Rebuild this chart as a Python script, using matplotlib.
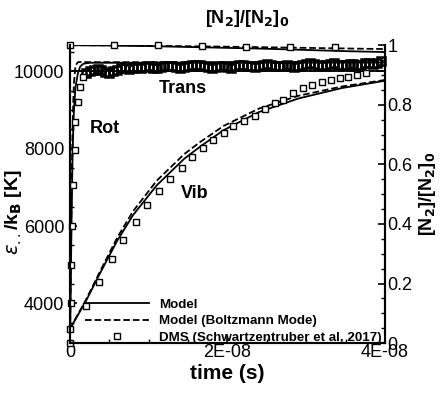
import matplotlib
matplotlib.use("Agg")
import matplotlib.pyplot as plt
from matplotlib.lines import Line2D
from matplotlib.ticker import MultipleLocator, FixedLocator

plt.rcParams['font.family'] = ['Liberation Sans', 'DejaVu Sans']

# --- model: translational (heat bath) ---
t_trans = [0.0, 4e-8]
trans_model = [10000, 10000]

# --- model: rotational ---
t_rot = [0.0, 1e-10, 2e-10, 3e-10, 4e-10, 5e-10, 7e-10, 1e-9, 1.3e-9, 1.7e-9, 2.5e-9, 4e-8]
rot_model = [3000, 4500, 6200, 7500, 8400, 9000, 9600, 9950, 10130, 10200, 10225, 10230]
rot_boltz = [3000, 4900, 6800, 8200, 9100, 9700, 10150, 10240, 10245, 10245, 10240, 10240]

# --- model: vibrational ---
t_vib = [0.0, 2e-9, 4e-9, 6e-9, 8e-9, 1.1e-8, 1.45e-8, 1.65e-8, 1.95e-8, 2.4e-8, 2.9e-8, 3.45e-8, 4e-8]
vib_model = [3340, 4050, 4850, 5620, 6280, 7050, 7740, 8050, 8480, 8950, 9300, 9570, 9760]
vib_boltz = [3340, 4080, 4900, 5700, 6380, 7170, 7860, 8170, 8590, 9040, 9370, 9610, 9780]

# --- model: [N2]/[N2]0 ---
t_n2 = [0.0, 0.5e-8, 1e-8, 1.5e-8, 2e-8, 2.5e-8, 3e-8, 3.5e-8, 4e-8]
n2_model = [1.0, 0.999, 0.997, 0.994, 0.991, 0.988, 0.984, 0.980, 0.977]
n2_boltz = [1.0, 0.9995, 0.998, 0.9965, 0.995, 0.993, 0.991, 0.989, 0.987]

# --- DMS (Schwartzentruber et al, 2017) ---
t_dms_rot = [0.0, 1e-10, 1.5e-10, 2.5e-10, 3.5e-10, 6e-10, 6.5e-10, 1.0e-9, 1.3e-9, 1.65e-9]
dms_rot = [2970, 4000, 4980, 6000, 7050, 7960, 8700, 9200, 9600, 9850]

t_dms_vib = [0.0, 2.0e-9, 3.7e-9, 5.3e-9, 6.7e-9, 8.4e-9, 9.8e-9, 1.13e-8, 1.27e-8, 1.42e-8,
             1.55e-8, 1.69e-8, 1.82e-8, 1.96e-8, 2.07e-8, 2.21e-8, 2.35e-8, 2.48e-8, 2.60e-8,
             2.70e-8, 2.83e-8, 2.96e-8, 3.07e-8, 3.20e-8, 3.31e-8, 3.43e-8, 3.53e-8, 3.64e-8, 3.76e-8]
dms_vib = [3330, 3920, 4560, 5140, 5650, 6100, 6550, 6900, 7220, 7500,
           7790, 8020, 8230, 8400, 8580, 8710, 8840, 9020, 9180,
           9250, 9430, 9560, 9640, 9720, 9770, 9820, 9850, 9920, 9970]

# DMS translational samples, one every 0.5 ns from 2 ns
t_dms_trans = [2.0e-9 + i * 5e-10 for i in range(76)]
dms_trans = [9960, 10010, 10040, 10060, 10030, 9990, 9970, 10000, 10050, 10080,
             10090, 10070, 10100, 10110, 10090, 10120, 10130, 10100, 10080, 10110,
             10140, 10150, 10130, 10110, 10090, 10110, 10140, 10170, 10180, 10160,
             10140, 10120, 10100, 10120, 10150, 10140, 10110, 10100, 10130, 10160,
             10170, 10150, 10130, 10110, 10140, 10170, 10190, 10180, 10150, 10130,
             10150, 10170, 10140, 10120, 10150, 10180, 10200, 10220, 10190, 10160,
             10140, 10160, 10190, 10210, 10180, 10160, 10170, 10200, 10190, 10170,
             10180, 10210, 10230, 10200, 10220, 10260]

t_dms_n2 = [0.0, 0.56e-8, 1.12e-8, 1.68e-8, 2.24e-8, 2.8e-8, 3.36e-8]
dms_n2 = [1.0, 1.0, 0.999, 0.997, 0.995, 0.993, 0.993]

fig = plt.figure(figsize=(4.43, 3.93), dpi=100)
ax = fig.add_axes([0.158, 0.127, 0.711, 0.758])
ax2 = ax.twinx()

lw = 1.3
sq = dict(marker='s', ms=5, mfc='white', mec='black', mew=1.0, ls='none', clip_on=False)

# energies (left axis)
ax.plot(t_trans, trans_model, '-', color='black', lw=lw)
ax.plot(t_trans, trans_model, '--', color='black', lw=lw)
ax.plot(t_rot, rot_model, '-', color='black', lw=lw)
ax.plot(t_rot, rot_boltz, '--', color='black', lw=lw)
ax.plot(t_vib, vib_model, '-', color='black', lw=lw)
ax.plot(t_vib, vib_boltz, '--', color='black', lw=lw)
ax.plot(t_dms_trans, dms_trans, marker='s', ms=5.5, mfc='none', mec='black', mew=1.8,
        ls='none', clip_on=False)
ax.plot(t_dms_rot, dms_rot, **sq)
ax.plot(t_dms_vib, dms_vib, **sq)

# concentration (right axis)
ax2.plot(t_n2, n2_model, '-', color='black', lw=lw)
ax2.plot(t_n2, n2_boltz, '--', color='black', lw=lw)
ax2.plot(t_dms_n2, dms_n2, **sq)

ax.set_xlim(0, 4e-8)
ax.set_ylim(2970, 10680)
ax2.set_ylim(0, 1)

ax.xaxis.set_major_locator(FixedLocator([0, 2e-8, 4e-8]))
ax.set_xticklabels(['0', '2E-08', '4E-08'])
ax.xaxis.set_minor_locator(MultipleLocator(0.5e-8))
ax.yaxis.set_major_locator(FixedLocator([4000, 6000, 8000, 10000]))
ax.yaxis.set_minor_locator(MultipleLocator(500))
ax2.yaxis.set_major_locator(FixedLocator([0, 0.2, 0.4, 0.6, 0.8, 1.0]))
ax2.set_yticklabels(['0', '0.2', '0.4', '0.6', '0.8', '1'])
ax2.yaxis.set_minor_locator(MultipleLocator(0.05))

for a in (ax, ax2):
    a.spines['top'].set_visible(False)
    for s in a.spines.values():
        s.set_linewidth(1.5)
    a.tick_params(which='major', direction='in', length=5, width=1.2, labelsize=13, pad=4)
    a.tick_params(which='minor', direction='in', length=3, width=1.0)
ax.tick_params(axis='y', which='both', right=False)
ax.tick_params(axis='x', which='both', top=False, pad=1)
ax2.tick_params(axis='y', pad=2)

ax.set_xlabel('time (s)', fontsize=15, fontweight='bold', labelpad=2)
ax.set_ylabel(r'$\varepsilon_{..}$/k$_\mathbf{B}$ [K]', fontsize=14, fontweight='bold')
ax.yaxis.set_label_coords(-0.145, 0.44)
ax2.set_ylabel(r'[N$_\mathbf{2}$]/[N$_\mathbf{2}$]$_\mathbf{0}$', fontsize=13, fontweight='bold', labelpad=3)

ax.text(1.435e-8, 9560, 'Trans', fontsize=13, fontweight='bold', ha='center', va='center')
ax.text(0.444e-8, 8525, 'Rot', fontsize=13, fontweight='bold', ha='center', va='center')
ax.text(1.587e-8, 6843, 'Vib', fontsize=13, fontweight='bold', ha='center', va='center')
fig.text(0.558, 0.953, r'[N$_\mathbf{2}$]/[N$_\mathbf{2}$]$_\mathbf{0}$', fontsize=13,
         fontweight='bold', ha='center', va='center')

handles = [
    Line2D([], [], color='black', lw=lw, ls='-'),
    Line2D([], [], color='black', lw=lw, ls='--'),
    Line2D([], [], marker='s', ms=5, mfc='white', mec='black', ls='none'),
]
labels = ['Model', 'Model (Boltzmann Mode)', 'DMS (Schwartzentruber et al, 2017)']
leg = ax2.legend(handles, labels, loc='lower left', bbox_to_anchor=(0.03, -0.02),
                 frameon=False, handlelength=4.8, handletextpad=0.75, labelspacing=0.3,
                 prop={'size': 9.6, 'weight': 'bold'}, borderaxespad=0)

plt.savefig('out.png', dpi=100)
plt.close()
